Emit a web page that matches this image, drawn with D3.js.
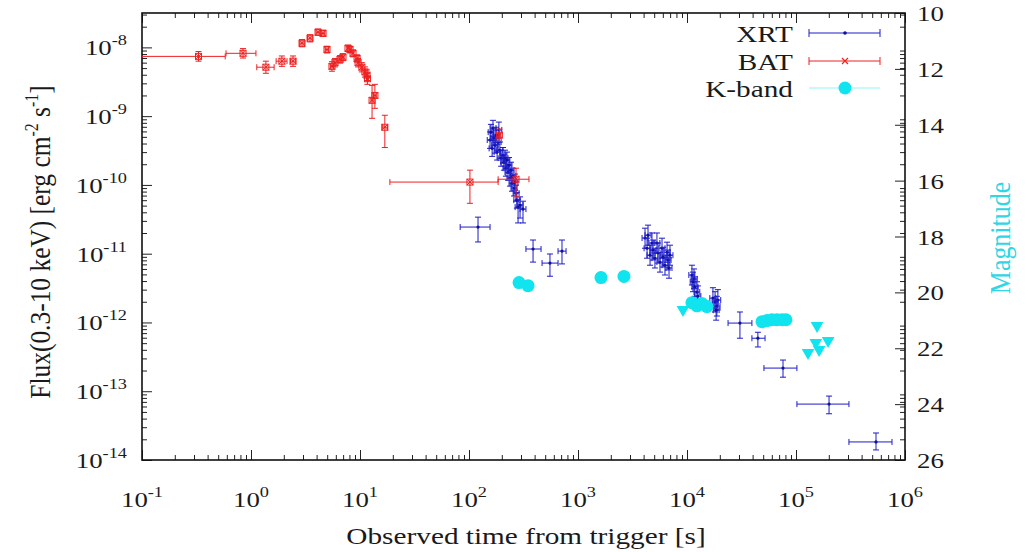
<!DOCTYPE html>
<html>
<head>
<meta charset="utf-8">
<script src="https://cdn.jsdelivr.net/npm/d3@7"></script>
<style>
  body { margin: 0; background: #fff; }
  text { font-family: "Liberation Serif", "Times New Roman", serif; fill: #1a1a1a; }
</style>
</head>
<body>
<div id="vis"></div>
<script>
// rows are [t, tLow, tHigh, flux, fluxLow, fluxHigh]
var xrtData = [
  [121, 83, 156, 2.44e-11, 1.48e-11, 3.4e-11],
  [156, 147, 166, 4.5e-10, 3.4e-10, 5.9e-10],
  [159, 150, 169, 5.85e-10, 4.5e-10, 7.6e-10],
  [163, 153, 173, 3.4e-10, 2.6e-10, 4.4e-10],
  [166, 156, 177, 6.7e-10, 5.1e-10, 8.7e-10],
  [169, 159, 180, 4.8e-10, 3.7e-10, 6.3e-10],
  [173, 162, 184, 3.8e-10, 2.9e-10, 5.0e-10],
  [177, 166, 188, 5.3e-10, 4.1e-10, 6.9e-10],
  [181, 170, 193, 3.0e-10, 2.3e-10, 3.9e-10],
  [185, 174, 197, 4.2e-10, 3.2e-10, 5.5e-10],
  [188, 177, 200, 6.3e-10, 4.8e-10, 8.2e-10],
  [192, 180, 204, 3.2e-10, 2.45e-10, 4.2e-10],
  [197, 185, 210, 2.45e-10, 1.87e-10, 3.2e-10],
  [205, 193, 218, 2.7e-10, 2.07e-10, 3.5e-10],
  [209, 196, 222, 2.14e-10, 1.64e-10, 2.8e-10],
  [214, 201, 228, 2.45e-10, 1.87e-10, 3.2e-10],
  [218, 205, 232, 1.75e-10, 1.34e-10, 2.3e-10],
  [223, 209, 237, 2.3e-10, 1.76e-10, 3.0e-10],
  [228, 214, 243, 1.53e-10, 1.17e-10, 2.0e-10],
  [233, 219, 248, 1.94e-10, 1.48e-10, 2.5e-10],
  [238, 223, 253, 1.26e-10, 9.6e-11, 1.65e-10],
  [243, 228, 259, 1.64e-10, 1.25e-10, 2.14e-10],
  [248, 233, 264, 1.06e-10, 8.1e-11, 1.39e-10],
  [253, 238, 269, 1.34e-10, 1.03e-10, 1.75e-10],
  [259, 243, 276, 9.0e-11, 6.9e-11, 1.18e-10],
  [264, 248, 281, 1.1e-10, 8.4e-11, 1.44e-10],
  [270, 254, 288, 7.6e-11, 5.8e-11, 9.9e-11],
  [275, 258, 293, 6.0e-11, 4.6e-11, 7.8e-11],
  [282, 265, 300, 4.75e-11, 2.8e-11, 6.2e-11],
  [294, 276, 313, 5.1e-11, 3.3e-11, 6.7e-11],
  [313, 294, 333, 4.45e-11, 2.8e-11, 5.8e-11],
  [387, 333, 458, 1.17e-11, 7.55e-12, 1.58e-11],
  [553, 468, 656, 7.3e-12, 4.7e-12, 9.9e-12],
  [713, 656, 777, 1.09e-11, 7.1e-12, 1.58e-11],
  [4120, 3870, 4390, 1.69e-11, 1.2e-11, 2.35e-11],
  [4300, 4040, 4580, 1.2e-11, 8.6e-12, 1.68e-11],
  [4390, 4120, 4680, 1.86e-11, 1.33e-11, 2.6e-11],
  [4580, 4300, 4880, 9.5e-12, 6.8e-12, 1.33e-11],
  [4770, 4480, 5080, 1.43e-11, 1.02e-11, 2.0e-11],
  [4880, 4580, 5200, 1.13e-11, 8.1e-12, 1.58e-11],
  [5080, 4770, 5410, 8.6e-12, 6.2e-12, 1.2e-11],
  [5300, 4980, 5640, 1.43e-11, 1.02e-11, 2.0e-11],
  [5420, 5090, 5770, 1.02e-11, 7.3e-12, 1.43e-11],
  [5650, 5300, 6020, 7.55e-12, 5.4e-12, 1.05e-11],
  [5900, 5540, 6280, 1.2e-11, 8.6e-12, 1.68e-11],
  [6030, 5660, 6420, 8.9e-12, 6.4e-12, 1.24e-11],
  [6280, 5900, 6690, 6.8e-12, 4.9e-12, 9.5e-12],
  [6560, 6160, 6990, 1.05e-11, 7.5e-12, 1.47e-11],
  [6700, 6290, 7140, 8.1e-12, 5.8e-12, 1.13e-11],
  [6980, 6550, 7430, 9.5e-12, 6.8e-12, 1.33e-11],
  [6840, 6420, 7280, 6.2e-12, 4.4e-12, 8.7e-12],
  [11100, 10400, 11800, 4.9e-12, 3.5e-12, 6.8e-12],
  [11600, 10900, 12400, 4.3e-12, 3.1e-12, 6.0e-12],
  [11350, 10700, 12100, 3.9e-12, 2.8e-12, 5.4e-12],
  [11800, 11100, 12600, 3.3e-12, 2.4e-12, 4.6e-12],
  [12350, 11600, 13100, 2.77e-12, 2.0e-12, 3.9e-12],
  [12600, 11800, 13400, 2.42e-12, 1.73e-12, 3.4e-12],
  [17300, 16200, 18400, 2.26e-12, 1.62e-12, 3.2e-12],
  [18100, 17000, 19300, 1.98e-12, 1.42e-12, 2.8e-12],
  [18800, 17700, 20100, 1.73e-12, 1.24e-12, 2.4e-12],
  [19200, 18000, 20400, 2.12e-12, 1.52e-12, 3.0e-12],
  [18500, 17400, 19700, 1.51e-12, 1.08e-12, 2.1e-12],
  [30600, 23800, 39400, 9.8e-13, 5.9e-13, 1.42e-12],
  [44700, 39400, 52000, 5.9e-13, 4.4e-13, 7.2e-13],
  [76000, 50800, 102000, 2.17e-13, 1.6e-13, 2.84e-13],
  [201000, 102000, 306000, 6.5e-14, 4.7e-14, 8.5e-14],
  [542000, 306000, 760000, 1.83e-14, 1.4e-14, 2.47e-14]
];

var batData = [
  [0.33, 0.05, 0.58, 7.4e-9, 6.3e-9, 8.7e-9],
  [0.845, 0.59, 1.11, 8.2e-9, 7.0e-9, 9.6e-9],
  [1.37, 1.13, 1.63, 5.15e-9, 4.2e-9, 6.3e-9],
  [1.92, 1.70, 2.14, 6.3e-9, 5.3e-9, 7.5e-9],
  [2.43, 2.3, 2.57, 6.3e-9, 5.3e-9, 7.5e-9],
  [2.94, 2.8, 3.08, 1.15e-8, 1.02e-8, 1.3e-8],
  [3.48, 3.3, 3.65, 1.36e-8, 1.2e-8, 1.53e-8],
  [4.12, 3.95, 4.3, 1.66e-8, 1.5e-8, 1.85e-8],
  [4.58, 4.4, 4.75, 1.6e-8, 1.45e-8, 1.78e-8],
  [4.98, 4.8, 5.15, 9.3e-9, 8.3e-9, 1.04e-8],
  [5.53, 5.35, 5.7, 5.3e-9, 4.5e-9, 6.2e-9],
  [5.9, 5.75, 6.05, 6.0e-9, 5.2e-9, 6.9e-9],
  [6.56, 6.4, 6.7, 6.7e-9, 5.9e-9, 7.6e-9],
  [6.98, 6.8, 7.15, 7.2e-9, 6.4e-9, 8.1e-9],
  [7.76, 7.6, 7.95, 9.7e-9, 8.7e-9, 1.08e-8],
  [8.1, 7.95, 8.3, 9.3e-9, 8.3e-9, 1.04e-8],
  [8.63, 8.45, 8.8, 8.2e-9, 7.3e-9, 9.2e-9],
  [9.4, 9.2, 9.6, 6.9e-9, 6.1e-9, 7.8e-9],
  [9.6, 9.4, 9.8, 6.0e-9, 5.2e-9, 6.9e-9],
  [10.4, 10.2, 10.6, 5.15e-9, 4.4e-9, 6.0e-9],
  [11.1, 10.9, 11.3, 4.4e-9, 3.7e-9, 5.2e-9],
  [11.6, 11.4, 11.8, 3.95e-9, 3.3e-9, 4.7e-9],
  [11.7, 11.5, 11.9, 3.5e-9, 2.9e-9, 4.2e-9],
  [12.9, 12.6, 13.2, 1.7e-9, 9.3e-10, 2.8e-9],
  [13.7, 13.3, 14.1, 2.0e-9, 1.3e-9, 2.9e-9],
  [16.9, 16.0, 17.9, 6.9e-10, 3.5e-10, 1.03e-9],
  [102, 18.8, 185, 1.1e-10, 5.4e-11, 1.64e-10],
  [190, 185, 196, 5.3e-10, 4.3e-10, 6.5e-10],
  [270, 185, 355, 1.21e-10, 6.7e-11, 1.75e-10]
];

// K-band detections [t, magnitude] and upper limits
var kbandData = [
  [288, 19.65], [348, 19.76], [1625, 19.47], [2640, 19.43],
  [11100, 20.37], [12350, 20.48], [13700, 20.40], [15250, 20.51],
  [48800, 21.05], [54200, 21.01], [60200, 20.98], [66900, 20.98],
  [74400, 20.98], [80900, 20.98]
];
var kbandLimits = [
  [9190, 20.62], [156000, 21.19], [152000, 21.80],
  [197000, 21.73], [129000, 22.16], [163000, 22.05]
];

var xExponents = [-1, 0, 1, 2, 3, 4, 5, 6];
var yExponents = [-14, -13, -12, -11, -10, -9, -8];
var magTicks = [10, 12, 14, 16, 18, 20, 22, 24, 26];
var legendLabels = ['XRT', 'BAT', 'K-band'];

// sizes
var width = 1034;
var height = 552;
var plot = { left: 142, right: 905, top: 13, bottom: 460 };
var SX = 1.22; // the picture is a bit wide, stretch text to match

var xrtColor = '#1c1cc8';
var batColor = '#ee2020';
var kColor = '#10e4ee';

var x = d3.scaleLog().domain([0.1, 1e6]).range([plot.left, plot.right]);
var y = d3.scaleLog().domain([1e-14, Math.pow(10, -7.5)]).range([plot.bottom, plot.top]);
var mag = d3.scaleLinear().domain([10, 26]).range([plot.top, plot.bottom]);

var svg = d3.select('#vis').append('svg')
  .attr('width', width)
  .attr('height', height);

svg.append('defs').append('clipPath').attr('id', 'clip')
  .append('rect')
  .attr('x', plot.left).attr('y', plot.top)
  .attr('width', plot.right - plot.left)
  .attr('height', plot.bottom - plot.top);

/**
 * minorLog - 2..9 times each power of ten inside a domain
 */
function minorLog(lo, hi) {
  var out = [];
  for (var e = Math.floor(Math.log10(lo)); e <= Math.ceil(Math.log10(hi)); e++) {
    for (var k = 2; k <= 9; k++) {
      var v = k * Math.pow(10, e);
      if (v > lo && v < hi) out.push(v);
    }
  }
  return out;
}

/**
 * powLabel - "10" with a superscript exponent
 */
function powLabel(t, e) {
  t.append('tspan').text('10');
  t.append('tspan').attr('dy', -10).attr('font-size', 15).text(e);
}

var axes = svg.append('g').attr('class', 'axes');

// bottom and top ticks (pointing inward)
var xMajor = xExponents.map(function (e) { return Math.pow(10, e); });
var xMinor = minorLog(0.1, 1e6);
axes.append('g').attr('transform', 'translate(0,' + plot.bottom + ')')
  .call(d3.axisBottom(x).tickValues(xMajor).tickSizeInner(-10).tickSizeOuter(0).tickFormat(''));
axes.append('g').attr('transform', 'translate(0,' + plot.bottom + ')')
  .call(d3.axisBottom(x).tickValues(xMinor).tickSizeInner(-5).tickSizeOuter(0).tickFormat(''));
axes.append('g').attr('transform', 'translate(0,' + plot.top + ')')
  .call(d3.axisTop(x).tickValues(xMajor).tickSizeInner(-10).tickSizeOuter(0).tickFormat(''));
axes.append('g').attr('transform', 'translate(0,' + plot.top + ')')
  .call(d3.axisTop(x).tickValues(xMinor).tickSizeInner(-5).tickSizeOuter(0).tickFormat(''));

// left ticks
var yMajor = yExponents.map(function (e) { return Math.pow(10, e); });
var yMinor = minorLog(1e-14, Math.pow(10, -7.5));
axes.append('g').attr('transform', 'translate(' + plot.left + ',0)')
  .call(d3.axisLeft(y).tickValues(yMajor).tickSizeInner(-10).tickSizeOuter(0).tickFormat(''));
axes.append('g').attr('transform', 'translate(' + plot.left + ',0)')
  .call(d3.axisLeft(y).tickValues(yMinor).tickSizeInner(-5).tickSizeOuter(0).tickFormat(''));

// right ticks: magnitude, plus mirrored log minors
axes.append('g').attr('transform', 'translate(' + plot.right + ',0)')
  .call(d3.axisRight(mag).tickValues(magTicks).tickSizeInner(-10).tickSizeOuter(0).tickFormat(''));
axes.append('g').attr('transform', 'translate(' + plot.right + ',0)')
  .call(d3.axisRight(y).tickValues(yMinor).tickSizeInner(-5).tickSizeOuter(0).tickFormat(''));

axes.selectAll('.domain').remove();
axes.selectAll('line').attr('stroke', '#222').attr('stroke-width', 1);

// frame
svg.append('rect')
  .attr('x', plot.left).attr('y', plot.top)
  .attr('width', plot.right - plot.left)
  .attr('height', plot.bottom - plot.top)
  .attr('fill', 'none').attr('stroke', '#111').attr('stroke-width', 1.6);

// tick labels
xExponents.forEach(function (e) {
  var t = svg.append('text')
    .attr('transform', 'translate(' + x(Math.pow(10, e)) + ',507) scale(' + SX + ',1)')
    .attr('text-anchor', 'middle').attr('font-size', 22);
  powLabel(t, e);
});
yExponents.forEach(function (e) {
  var t = svg.append('text')
    .attr('transform', 'translate(127,' + (y(Math.pow(10, e)) + 8) + ') scale(' + SX + ',1)')
    .attr('text-anchor', 'end').attr('font-size', 22);
  powLabel(t, e);
});
magTicks.forEach(function (m) {
  svg.append('text')
    .attr('transform', 'translate(917,' + (mag(m) + 8) + ') scale(' + SX + ',1)')
    .attr('font-size', 22)
    .text(m);
});

// axis titles
svg.append('text')
  .attr('transform', 'translate(526,544) scale(' + SX + ',1)')
  .attr('text-anchor', 'middle').attr('font-size', 24)
  .text('Observed time from trigger [s]');

var yt = svg.append('text')
  .attr('transform', 'translate(50,242) rotate(-90) scale(1.06,' + SX + ')')
  .attr('text-anchor', 'middle').attr('font-size', 24);
yt.append('tspan').text('Flux(0.3-10 keV) [erg cm');
yt.append('tspan').attr('dy', -10).attr('font-size', 15).text('-2');
yt.append('tspan').attr('dy', 10).text(' s');
yt.append('tspan').attr('dy', -10).attr('font-size', 15).text('-1');
yt.append('tspan').attr('dy', 10).text(']');

svg.append('text')
  .attr('transform', 'translate(1010,238) rotate(-90) scale(1.08,' + SX + ')')
  .attr('text-anchor', 'middle').attr('font-size', 24)
  .style('fill', '#30d6e4')
  .text('Magnitude');

/**
 * errorBars - draws gnuplot style xyerrorbars for one data set
 */
function errorBars(g, rows, color, cap) {
  var sel = g.selectAll('g.pt').data(rows).enter().append('g').attr('class', 'pt')
    .attr('stroke', color).attr('stroke-width', 1).attr('fill', 'none');
  sel.append('line')
    .attr('x1', function (d) { return x(d[1]); }).attr('x2', function (d) { return x(d[2]); })
    .attr('y1', function (d) { return y(d[3]); }).attr('y2', function (d) { return y(d[3]); });
  sel.append('line')
    .attr('x1', function (d) { return x(d[0]); }).attr('x2', function (d) { return x(d[0]); })
    .attr('y1', function (d) { return y(d[4]); }).attr('y2', function (d) { return y(d[5]); });
  [1, 2].forEach(function (i) {
    sel.append('line')
      .attr('x1', function (d) { return x(d[i]); }).attr('x2', function (d) { return x(d[i]); })
      .attr('y1', function (d) { return y(d[3]) - cap; }).attr('y2', function (d) { return y(d[3]) + cap; });
  });
  [4, 5].forEach(function (i) {
    sel.append('line')
      .attr('x1', function (d) { return x(d[0]) - cap; }).attr('x2', function (d) { return x(d[0]) + cap; })
      .attr('y1', function (d) { return y(d[i]); }).attr('y2', function (d) { return y(d[i]); });
  });
  return sel;
}

var data = svg.append('g').attr('clip-path', 'url(#clip)');

// XRT
var xrt = errorBars(data.append('g'), xrtData, xrtColor, 3);
xrt.append('circle')
  .attr('cx', function (d) { return x(d[0]); })
  .attr('cy', function (d) { return y(d[3]); })
  .attr('r', 1.6).attr('fill', '#1010a0').attr('stroke', 'none');

// BAT
var bat = errorBars(data.append('g'), batData, batColor, 3);
bat.append('rect')
  .attr('x', function (d) { return x(d[0]) - 3; })
  .attr('y', function (d) { return y(d[3]) - 3; })
  .attr('width', 6).attr('height', 6);
bat.append('path')
  .attr('d', function (d) {
    var cx = x(d[0]), cy = y(d[3]);
    return 'M' + (cx - 3) + ',' + (cy - 3) + 'L' + (cx + 3) + ',' + (cy + 3) +
      'M' + (cx - 3) + ',' + (cy + 3) + 'L' + (cx + 3) + ',' + (cy - 3);
  });

// K-band
data.append('g').selectAll('circle').data(kbandData).enter().append('circle')
  .attr('cx', function (d) { return x(d[0]); })
  .attr('cy', function (d) { return mag(d[1]); })
  .attr('r', 6.5).attr('fill', kColor);

var tri = d3.symbol().type(d3.symbolTriangle).size(70);
data.append('g').selectAll('path').data(kbandLimits).enter().append('path')
  .attr('transform', function (d) { return 'translate(' + x(d[0]) + ',' + mag(d[1]) + ') rotate(180)'; })
  .attr('d', tri).attr('fill', kColor);

// legend
var legend = svg.append('g').attr('class', 'legend');
var legendColors = [xrtColor, batColor, '#8ff4f8'];
var legendY = [33, 61, 88];
legendLabels.forEach(function (name, i) {
  var ly = legendY[i];
  legend.append('text')
    .attr('transform', 'translate(793,' + (ly + 9) + ') scale(' + SX + ',1)')
    .attr('text-anchor', 'end').attr('font-size', 24)
    .text(name);
  legend.append('line')
    .attr('x1', 809).attr('x2', 880).attr('y1', ly).attr('y2', ly)
    .attr('stroke', legendColors[i]).attr('stroke-width', 1);
  if (i < 2) {
    [809, 880].forEach(function (cx) {
      legend.append('line').attr('x1', cx).attr('x2', cx).attr('y1', ly - 4).attr('y2', ly + 4)
        .attr('stroke', legendColors[i]);
    });
  }
});
legend.append('circle').attr('cx', 845).attr('cy', legendY[0]).attr('r', 1.8).attr('fill', '#1010a0');
legend.append('path')
  .attr('d', 'M842,58L848,64M842,64L848,58')
  .attr('stroke', batColor).attr('stroke-width', 1.2);
legend.append('circle').attr('cx', 845).attr('cy', legendY[2]).attr('r', 6.5).attr('fill', kColor);
</script>
</body>
</html>
